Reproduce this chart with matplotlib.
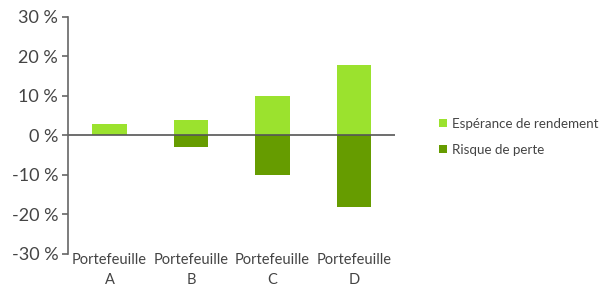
import matplotlib.pyplot as plt

# Données
portefeuilles = ["Portefeuille\nA", "Portefeuille\nB", "Portefeuille\nC", "Portefeuille\nD"]
esperance = [2.8, 3.8, 9.9, 17.8]
risque = [0.0, -3.0, -10.1, -18.0]
yticks = [-30, -20, -10, 0, 10, 20, 30]
ytick_labels = ["-30 %", "-20 %", "-10 %", "0 %", "10 %", "20 %", "30 %"]

vert_clair = "#9be22e"
vert_fonce = "#669c00"
gris = "#444444"

plt.rcParams["font.family"] = ["Lato", "DejaVu Sans"]

fig = plt.figure(figsize=(6.01, 2.86), dpi=100)
ax = fig.add_axes([0.113, 0.112, 0.544, 0.829])

x = range(len(portefeuilles))
ax.bar(x, esperance, width=0.42, color=vert_clair, label="Espérance de rendement")
ax.bar(x, risque, width=0.42, color=vert_fonce, label="Risque de perte")
ax.axhline(0, color="#555555", lw=1.2)

ax.set_xlim(-0.51, 3.5)
ax.set_ylim(-30, 30)
ax.set_yticks(yticks)
ax.set_yticklabels(ytick_labels, fontsize=13, color=gris)
ax.set_xticks(list(x))
ax.set_xticklabels(portefeuilles, fontsize=10.5, color=gris, linespacing=1.55)
ax.tick_params(axis="x", length=0, pad=-1)
ax.tick_params(axis="y", length=4, width=1.2, color="#666666", pad=3)

for s in ["top", "right", "bottom"]:
    ax.spines[s].set_visible(False)
ax.spines["left"].set_color("#666666")
ax.spines["left"].set_linewidth(1.2)

# légende à droite de l'axe
ax.legend(loc="center left", bbox_to_anchor=(1.135, 0.495), frameon=False,
          borderpad=0, borderaxespad=0, fontsize=9.6, labelcolor=gris,
          handlelength=0.6, handleheight=0.6, handletextpad=0.4, labelspacing=1.05)

fig.savefig("out.png", dpi=100)
